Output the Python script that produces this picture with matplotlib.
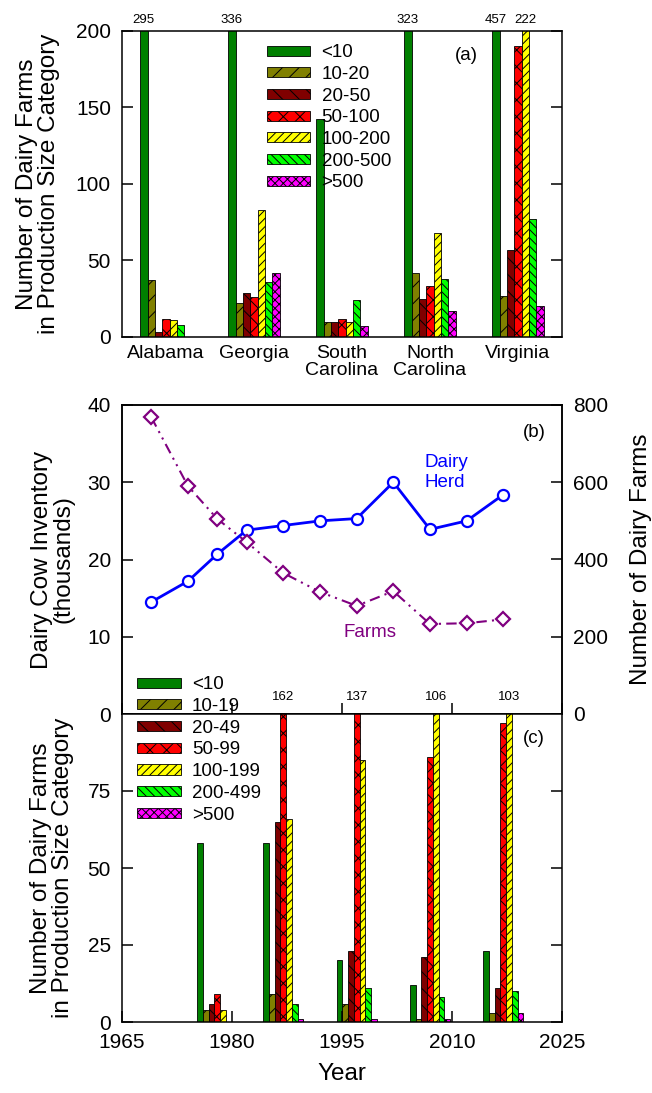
import matplotlib
matplotlib.use('Agg')
import matplotlib.pyplot as plt
import numpy as np

plt.rcParams['font.family'] = ['Liberation Sans', 'DejaVu Sans']
plt.rcParams['hatch.linewidth'] = 0.7
plt.rcParams['axes.linewidth'] = 1.1

# ---- panel (a): farms by size category per state
states = ['Alabama', 'Georgia', 'South\nCarolina', 'North\nCarolina', 'Virginia']
size_labels_a = ['<10', '10-20', '20-50', '50-100', '100-200', '200-500', '>500']
a_lt10 = [295, 336, 142, 323, 457]
a_10_20 = [37, 22, 10, 42, 27]
a_20_50 = [3, 29, 10, 25, 57]
a_50_100 = [12, 26, 12, 33, 190]
a_100_200 = [11, 83, 10, 68, 222]
a_200_500 = [8, 36, 24, 38, 77]
a_gt500 = [0, 42, 7, 17, 20]

# ---- panel (b): inventory and number of farms
years_b = [1969, 1974, 1978, 1982, 1987, 1992, 1997, 2002, 2007, 2012, 2017]
herd = [14.5, 17.2, 20.7, 23.8, 24.4, 25.0, 25.3, 30.0, 23.9, 25.0, 28.4]
farms = [768, 590, 505, 445, 365, 316, 280, 318, 233, 235, 245]

# ---- panel (c): farms by size category per census year
census_years = [1978, 1987, 1997, 2007, 2017]
size_labels_c = ['<10', '10-19', '20-49', '50-99', '100-199', '200-499', '>500']
c_lt10 = [58, 58, 20, 12, 23]
c_10_19 = [4, 9, 6, 1, 3]
c_20_49 = [6, 65, 23, 21, 11]
c_50_99 = [9, 162, 137, 86, 97]
c_100_199 = [4, 66, 85, 106, 103]
c_200_499 = [0, 6, 11, 8, 10]
c_gt500 = [0, 1, 1, 1, 3]

colors = ['#008000', '#808000', '#800000', '#FF0000', '#FFFF00', '#00FF00', '#FF00FF']
hatches = ['', '//', '\\\\', 'xx', '////', '\\\\\\\\', 'xxxx']

W, H = 652, 1093
fig = plt.figure(figsize=(W / 100, H / 100), dpi=100)


def rect(left, right, top, bottom):
    # pixel box -> figure fraction
    return [left / W, 1 - bottom / H, (right - left) / W, (bottom - top) / H]


ax_a = fig.add_axes(rect(122, 562, 30.5, 337))
ax_b = fig.add_axes(rect(122, 562, 405, 714))
ax_b2 = ax_b.twinx()
ax_c = fig.add_axes(rect(122, 562, 714, 1022))

tick_kw = dict(direction='in', length=8, width=1.1, labelsize=15, pad=8)
leg_kw = dict(loc='upper left', frameon=False, fontsize=13.5, handlelength=2.3,
              handleheight=0.45, handletextpad=0.6, labelspacing=0.25,
              borderpad=0, borderaxespad=0)

# panel (a)
series_a = [a_lt10, a_10_20, a_20_50, a_50_100, a_100_200, a_200_500, a_gt500]
wa = 0.084
xa = np.arange(len(states)) + 0.5
for k, vals in enumerate(series_a):
    xs = xa + (k - 3) * wa
    ax_a.bar(xs, vals, width=wa, color=colors[k], hatch=hatches[k],
             edgecolor='black', linewidth=0.6, label=size_labels_a[k])
    # values cut off by the axis are written above it
    for x, v in zip(xs, vals):
        if v > 200:
            ax_a.text(x, 203, str(v), ha='center', va='bottom', fontsize=9.5, clip_on=False)
ax_a.set_xlim(0, 5)
ax_a.set_ylim(0, 200)
ax_a.set_yticks([0, 50, 100, 150, 200])
ax_a.set_xticks(xa)
ax_a.set_xticklabels(states, fontsize=14, linespacing=1.0)
ax_a.tick_params(axis='y', right=True, **tick_kw)
ax_a.tick_params(axis='x', length=0, pad=6)
ax_a.set_ylabel('Number of Dairy Farms\nin Production Size Category', fontsize=17.5, linespacing=1.0)
ax_a.yaxis.set_label_coords(-0.14, 0.5)
ax_a.text(0.782, 0.92, '(a)', transform=ax_a.transAxes, fontsize=13.5, ha='center', va='center')
ax_a.legend(bbox_to_anchor=(0.33, 0.955), **leg_kw)

# panel (b)
ax_b.plot(years_b, herd, color='blue', lw=2, marker='o', ms=8, mfc='white',
          mec='blue', mew=1.6, zorder=3)
ax_b2.plot(years_b, farms, color='#800080', lw=1.5, ls=(0, (5, 2.5, 1, 2.5, 1, 2.5)),
           marker='D', ms=7.5, mfc='white', mec='#800080', mew=1.6)
ax_b.set_xlim(1965, 2025)
ax_b.set_ylim(0, 40)
ax_b2.set_ylim(0, 800)
ax_b.set_yticks([0, 10, 20, 30, 40])
ax_b2.set_yticks([0, 200, 400, 600, 800])
ax_b.set_xticks([1965, 1980, 1995, 2010, 2025])
ax_b.tick_params(axis='y', **tick_kw)
ax_b.tick_params(axis='x', labelbottom=False, **tick_kw)
ax_b2.tick_params(axis='y', **tick_kw)
ax_b.set_ylabel('Dairy Cow Inventory\n(thousands)', fontsize=17.5, linespacing=1.0)
ax_b.yaxis.set_label_coords(-0.107, 0.5)
ax_b2.set_ylabel('Number of Dairy Farms', fontsize=17.5)
ax_b2.yaxis.set_label_coords(1.155, 0.5)
ax_b.text(2006.2, 31.3, 'Dairy\nHerd', color='blue', fontsize=13.5, ha='left', va='center',
          linespacing=1.25)
ax_b.text(1998.8, 10.5, 'Farms', color='#800080', fontsize=13.5, ha='center', va='center')
ax_b.text(0.936, 0.91, '(b)', transform=ax_b.transAxes, fontsize=13.5, ha='center', va='center')

# panel (c)
series_c = [c_lt10, c_10_19, c_20_49, c_50_99, c_100_199, c_200_499, c_gt500]
wc = 0.78
for k, vals in enumerate(series_c):
    xs = np.array(census_years) + (k - 3) * wc
    ax_c.bar(xs, vals, width=wc, color=colors[k], hatch=hatches[k],
             edgecolor='black', linewidth=0.6, label=size_labels_c[k])
    for x, v in zip(xs, vals):
        if v > 100:
            ax_c.text(x, 103.5, str(v), ha='center', va='bottom', fontsize=9.5, clip_on=False)
ax_c.set_xlim(1965, 2025)
ax_c.set_ylim(0, 100)
ax_c.set_yticks([0, 25, 50, 75])
ax_c.set_xticks([1965, 1980, 1995, 2010, 2025])
ax_c.tick_params(axis='y', right=True, **tick_kw)
ax_c.tick_params(axis='x', **tick_kw)
ax_c.set_xlabel('Year', fontsize=17.5, labelpad=8)
ax_c.set_ylabel('Number of Dairy Farms\nin Production Size Category', fontsize=17.5, linespacing=1.0)
ax_c.yaxis.set_label_coords(-0.109, 0.5)
ax_c.text(0.936, 0.92, '(c)', transform=ax_c.transAxes, fontsize=13.5, ha='center', va='center')
ax_c.legend(bbox_to_anchor=(0.035, 1.122), **leg_kw)

fig.savefig('out.png', dpi=100)
